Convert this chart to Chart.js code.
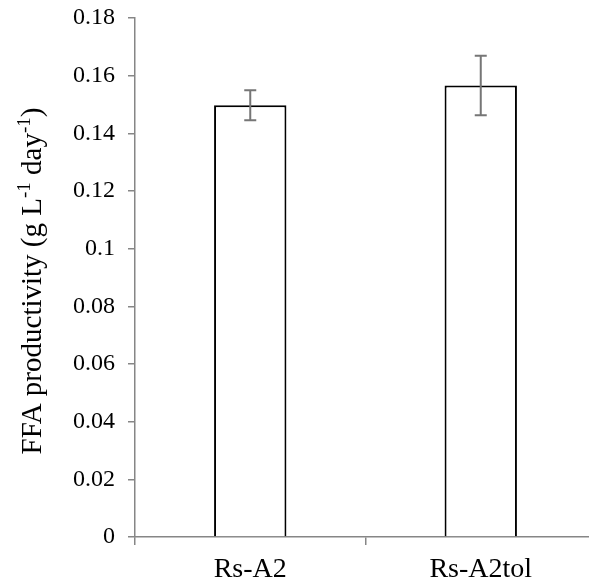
<!DOCTYPE html>
<html>
<head>
<meta charset="utf-8">
<script src="https://cdn.jsdelivr.net/npm/chart.js@4/dist/chart.umd.min.js"></script>
<style>
html,body{margin:0;padding:0;background:#fff;overflow:hidden;}
#wrap{position:relative;width:589px;height:588px;overflow:hidden;}
</style>
</head>
<body>
<div id="wrap"><canvas id="c" width="600" height="588"></canvas></div>
<script>
const categories = ['Rs-A2', 'Rs-A2tol'];
const productivity = [0.1497, 0.1566];
const errors = [0.0052, 0.0103];
const yTickLabels = ['0', '0.02', '0.04', '0.06', '0.08', '0.1', '0.12', '0.14', '0.16', '0.18'];
const yTitleParts = [['FFA productivity (g L', false], ['-1', true], [' day', false], ['-1', true], [')', false]];

const FONT = "'Liberation Serif', 'Times New Roman', serif";
const AXIS = '#868686';

const errorBars = {
  id: 'errorBars',
  afterDatasetsDraw(chart) {
    const ctx = chart.ctx, x = chart.scales.x, y = chart.scales.y;
    ctx.save();
    ctx.strokeStyle = '#767676';
    ctx.lineWidth = 2;
    productivity.forEach((v, i) => {
      const px = x.getPixelForValue(i);
      const t = y.getPixelForValue(v + errors[i]);
      const b = y.getPixelForValue(v - errors[i]);
      ctx.beginPath();
      ctx.moveTo(px, t); ctx.lineTo(px, b);
      ctx.moveTo(px - 6, t); ctx.lineTo(px + 6, t);
      ctx.moveTo(px - 6, b); ctx.lineTo(px + 6, b);
      ctx.stroke();
    });
    ctx.restore();
  }
};

const yTitle = {
  id: 'yTitle',
  afterDraw(chart) {
    const ctx = chart.ctx;
    const big = 29, small = 19;
    ctx.save();
    ctx.fillStyle = '#000';
    ctx.textBaseline = 'alphabetic';
    let total = 0;
    yTitleParts.forEach(([t, sup]) => {
      ctx.font = (sup ? small : big) + 'px ' + FONT;
      total += ctx.measureText(t).width;
    });
    ctx.translate(41, 281);
    ctx.rotate(-Math.PI / 2);
    let cx = -total / 2;
    yTitleParts.forEach(([t, sup]) => {
      ctx.font = (sup ? small : big) + 'px ' + FONT;
      ctx.fillText(t, cx, sup ? -11 : 0);
      cx += ctx.measureText(t).width;
    });
    ctx.restore();
  }
};

new Chart(document.getElementById('c'), {
  type: 'bar',
  data: {
    labels: categories,
    datasets: [{
      data: productivity,
      backgroundColor: '#ffffff',
      borderColor: '#000000',
      borderWidth: 2,
      borderSkipped: 'bottom',
      categoryPercentage: 1,
      barPercentage: 0.314
    }]
  },
  options: {
    responsive: false,
    animation: false,
    devicePixelRatio: 1,
    layout: { padding: { top: 18, right: 4, left: 0, bottom: 0 } },
    plugins: { legend: { display: false }, tooltip: { enabled: false } },
    scales: {
      x: {
        grid: { display: true, drawOnChartArea: false, offset: true, color: AXIS, tickLength: 8, lineWidth: 1.5 },
        border: { color: AXIS, width: 1.5 },
        ticks: { color: '#000', font: { family: FONT, size: 28 }, padding: 8, maxRotation: 0 },
        afterFit(s) { s.height = 51; s.paddingLeft = 0; s.paddingRight = 0; }
      },
      y: {
        min: 0, max: 0.18,
        grid: { display: true, drawOnChartArea: false, color: AXIS, tickLength: 7, lineWidth: 1.5 },
        border: { color: AXIS, width: 1.5 },
        ticks: {
          stepSize: 0.02, color: '#000', font: { family: FONT, size: 24 }, padding: 13,
          callback: (v, i) => yTickLabels[i]
        },
        afterFit(s) { s.width = 135; s.paddingTop = 0; s.paddingBottom = 0; }
      }
    }
  },
  plugins: [errorBars, yTitle]
});
</script>
</body>
</html>
